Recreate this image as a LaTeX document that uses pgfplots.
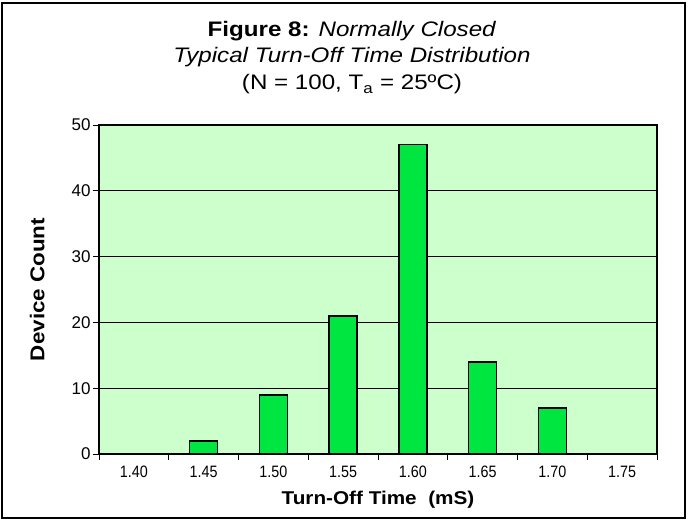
\documentclass[border=0pt]{standalone}
\usepackage{pgfplots}
\pgfplotsset{compat=1.18}
\usepackage{fontspec}
\setmainfont{Liberation Sans}
\newfontfamily\titlefont{Liberation Sans}[FakeStretch=1.15]
\newfontfamily\labelfont{Liberation Sans}[FakeStretch=1.12]
\newfontfamily\tickfont{Liberation Sans}[FakeStretch=0.87]

\definecolor{plotbg}{RGB}{204,255,204}
\definecolor{barfill}{RGB}{0,230,64}

\begin{document}
\begin{tikzpicture}[x=1pt,y=1pt]
% outer frame and page size
\path[use as bounding box] (0,0) rectangle (688,520);
\draw[line width=1.5pt] (2,2) rectangle (685,517);

\begin{axis}[
    at={(99pt,66pt)}, anchor=south west,
    scale only axis,
    width=558pt, height=329pt,
    axis background/.style={fill=plotbg},
    axis line style={line width=1.5pt},
    ymin=0, ymax=50,
    ytick={0,10,...,50},
    xmin=-0.5, xmax=7.5,
    xtick={-0.5,0.5,...,7.5},
    x tick label as interval,
    xticklabels={1.40,1.45,1.50,1.55,1.60,1.65,1.70,1.75},
    tick align=outside,
    major tick length=6pt,
    xtick pos=bottom, ytick pos=left,
    tick style={black, line width=0.8pt},
    ymajorgrids=true,
    major grid style={black, line width=0.8pt},
    xticklabel style={font=\tickfont\fontsize{16.5}{18}\selectfont,
        anchor=north, text height=12pt, text depth=0pt, yshift=-2pt},
    yticklabel style={font=\fontsize{17}{18}\selectfont, xshift=1pt},
    /pgf/number format/assume math mode=true,
    xlabel={\textbf{Turn-Off Time\ \ (mS)}},
    ylabel={\textbf{Device Count}},
    label style={font=\labelfont\fontsize{18.5}{20}\selectfont},
    xlabel style={yshift=-7pt},
    ylabel style={yshift=20pt, font=\labelfont\fontsize{20}{22}\selectfont},
]
\addplot[ybar, bar width=28pt, fill=barfill, draw=black, line width=1.5pt]
    coordinates {(0,0) (1,2) (2,9) (3,21) (4,47) (5,14) (6,7) (7,0)};
\end{axis}

\begin{scope}[every node/.style={anchor=base, font=\titlefont\fontsize{21}{26}\selectfont}]
\node at (352,483) {\textbf{Figure 8:} \textit{Normally Closed}};
\node at (352,457) {\textit{Typical Turn-Off Time Distribution}};
\node at (352,430) {(N = 100, T\textsubscript{a} = 25ºC)};
\end{scope}
\end{tikzpicture}
\end{document}
